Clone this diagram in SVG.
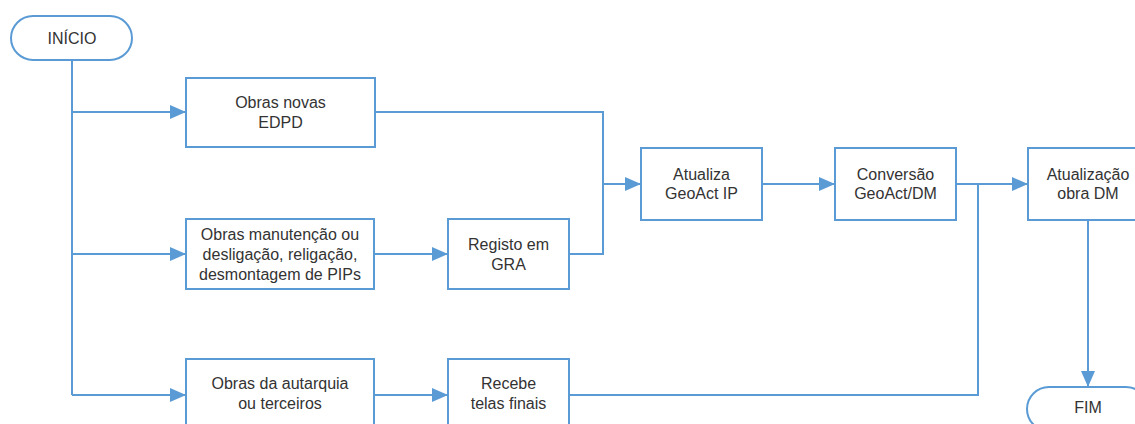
<svg xmlns="http://www.w3.org/2000/svg" width="1135" height="424" viewBox="0 0 1135 424">
<defs>
<marker id="arr" markerUnits="userSpaceOnUse" markerWidth="16" markerHeight="14" refX="16" refY="7" orient="auto">
<path d="M0,0 L16,7 L0,14 z" fill="#5b9bd5"/>
</marker>
<style>
.box{fill:#fff;stroke:#5b9bd5;stroke-width:2}
.ln{fill:none;stroke:#5b9bd5;stroke-width:2}
.t{font-family:"Liberation Sans",Arial,sans-serif;font-size:16px;fill:#333;text-anchor:middle}
</style>
</defs>
<rect width="1135" height="424" fill="#fff"/>
<g id="connectors">
<path class="ln" d="M72,60 V395"/>
<path class="ln" d="M72,112 H186" marker-end="url(#arr)"/>
<path class="ln" d="M72,254 H186" marker-end="url(#arr)"/>
<path class="ln" d="M72,395 H186" marker-end="url(#arr)"/>
<path class="ln" d="M375,112 H603 V184 H641" marker-end="url(#arr)"/>
<path class="ln" d="M374,254 H448" marker-end="url(#arr)"/>
<path class="ln" d="M569,254 H603 V184"/>
<path class="ln" d="M374,395 H448" marker-end="url(#arr)"/>
<path class="ln" d="M569,395 H978 V184"/>
<path class="ln" d="M762,184 H835" marker-end="url(#arr)"/>
<path class="ln" d="M956,184 H1028" marker-end="url(#arr)"/>
<path class="ln" d="M1088,220 V387" marker-end="url(#arr)"/>
</g>
<g id="inicio">
<rect class="box" x="11" y="16" width="121" height="44" rx="22"/>
<text class="t" x="72" y="43.5">INÍCIO</text>
</g>
<g id="obras-novas">
<rect class="box" x="186" y="78" width="189" height="69"/>
<text class="t" x="280.5" y="107.5">Obras novas</text>
<text class="t" x="280.5" y="127.5">EDPD</text>
</g>
<g id="obras-manutencao">
<rect class="box" x="186" y="219" width="188" height="70"/>
<text class="t" x="280" y="239.5">Obras manutenção ou</text>
<text class="t" x="280" y="259.5">desligação, religação,</text>
<text class="t" x="280" y="279.5">desmontagem de PIPs</text>
</g>
<g id="registo-gra">
<rect class="box" x="448" y="219" width="121" height="70"/>
<text class="t" x="508.5" y="249.5">Registo em</text>
<text class="t" x="508.5" y="269.5">GRA</text>
</g>
<g id="obras-autarquia">
<rect class="box" x="186" y="359" width="188" height="70"/>
<text class="t" x="280" y="389">Obras da autarquia</text>
<text class="t" x="280" y="409">ou terceiros</text>
</g>
<g id="recebe-telas">
<rect class="box" x="448" y="359" width="121" height="70"/>
<text class="t" x="508.5" y="389">Recebe</text>
<text class="t" x="508.5" y="409">telas finais</text>
</g>
<g id="atualiza-geoact">
<rect class="box" x="641" y="148" width="121" height="72"/>
<text class="t" x="701.5" y="179.5">Atualiza</text>
<text class="t" x="701.5" y="198.5">GeoAct IP</text>
</g>
<g id="conversao">
<rect class="box" x="835" y="148" width="121" height="72"/>
<text class="t" x="895.5" y="179.5">Conversão</text>
<text class="t" x="895.5" y="198.5">GeoAct/DM</text>
</g>
<g id="atualizacao-dm">
<rect class="box" x="1028" y="148" width="120" height="72"/>
<text class="t" x="1088" y="179.5">Atualização</text>
<text class="t" x="1088" y="198.5">obra DM</text>
</g>
<g id="fim">
<rect class="box" x="1027" y="387" width="121" height="44" rx="22"/>
<text class="t" x="1088" y="412.5">FIM</text>
</g>
</svg>
